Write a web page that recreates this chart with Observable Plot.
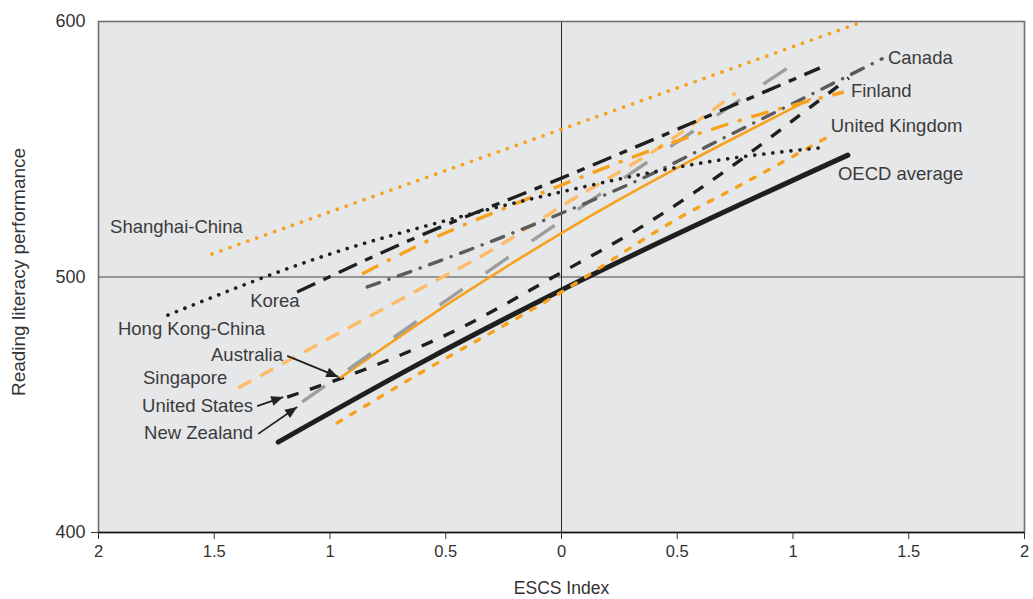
<!DOCTYPE html>
<html>
<head>
<meta charset="utf-8">
<script src="https://cdn.jsdelivr.net/npm/d3@7"></script>
<script src="https://cdn.jsdelivr.net/npm/@observablehq/plot@0.6"></script>
<style>
  html, body { margin: 0; padding: 0; background: #ffffff; }
  #chart { width: 1033px; height: 599px; }
</style>
</head>
<body>
<div id="chart"></div>
<script>
// ---------- Data (ESCS index, reading score) ----------
const shanghai  = [[-1.51, 509.0], [1.28, 599.2]];
const hongKong  = [[-1.70, 485.1], [-0.986, 509.4], [-0.523, 521.5], [0.0, 533.3], [0.744, 546.6], [1.11, 550.5]];
const korea     = [[-1.142, 494.1], [-0.653, 514.5], [0.0, 538.7], [1.116, 581.8]];
const canada    = [[-0.839, 496.1], [-0.61, 503.5], [-0.104, 521.1], [0.398, 540.7], [0.744, 556.4], [1.09, 572.0], [1.385, 585.4]];
const finland   = [[-0.861, 501.2], [-0.597, 513.3], [-0.19, 529.0], [0.0, 536.0], [0.428, 550.9], [0.774, 561.4], [1.22, 572.4]];
const unitedKingdom = [[-0.969, 442.9], [-0.61, 462.4], [0.0, 494.1], [0.515, 523.5], [0.774, 536.0], [1.15, 554.8]];
const oecdAverage   = [[-1.224, 435.4], [-0.61, 466.3], [0.0, 494.9], [1.237, 547.7]];
const australia = [[-0.956, 460.5], [-0.45, 491.8], [0.0, 517.2], [1.077, 569.7]];
const singapore = [[-1.397, 456.6], [-0.683, 491.8], [-0.264, 512.5], [0.009, 528.2], [0.458, 552.8], [0.752, 572.0]];
const unitedStates = [[-1.185, 453.0], [-0.856, 463.6], [-0.437, 480.0], [-0.035, 500.0], [0.372, 521.1], [0.761, 545.0], [1.047, 564.6], [1.241, 577.9]];
const newZealand = [[-1.12, 451.1], [-0.017, 521.0], [1.021, 584.5]];

const countryNames = ["Shanghai-China", "Korea", "Hong Kong-China", "Australia", "Singapore", "United States", "New Zealand", "Canada", "Finland", "United Kingdom", "OECD average"];
const labelX = [-1.95, -1.345, -1.916, -1.514, -1.808, -1.812, -1.803, 1.41, 1.25, 1.163, 1.194];
const labelY = [519.6, 490.6, 479.6, 469.5, 460.5, 449.5, 438.9, 585.7, 572.8, 559.1, 540.3];

// annotation arrows: [x1, y1, x2, y2] (from label to line start)
const arrowAustralia = [-1.185, 469.1, -0.964, 460.9];
const arrowUS        = [-1.315, 449.5, -1.202, 453.0];
const arrowNZ        = [-1.310, 438.6, -1.142, 449.1];

const xTicks = [-2, -1.5, -1, -0.5, 0, 0.5, 1, 1.5, 2];
const yTicks = [400, 500, 600];
const xTitle = "ESCS Index";
const yTitle = "Reading literacy performance";

// ---------- Layout / styles ----------
const W = 1033, H = 599;
const mL = 98, mR = 9, mT = 21, mB = 67;
const xDomain = [-2, 2], yDomain = [400, 600];
const kx = (W - mL - mR) / (xDomain[1] - xDomain[0]);
const ky = (H - mT - mB) / (yDomain[1] - yDomain[0]);

const ORANGE = "#f7a11c", LIGHT_ORANGE = "#fdbb66", BLACK = "#1f1f1f", DARK_GRAY = "#5b5b5b", LIGHT_GRAY = "#9d9d9d";

const series = [
  {data: oecdAverage,   stroke: BLACK,        width: 5,   dash: null,           cap: "round", curve: "monotone-x"},
  {data: unitedKingdom, stroke: ORANGE,       width: 3.4, dash: "5,11",         cap: "round", curve: "monotone-x"},
  {data: unitedStates,  stroke: BLACK,        width: 3.4, dash: "12,12",        cap: "butt",  curve: "monotone-x"},
  {data: australia,     stroke: ORANGE,       width: 2.6, dash: null,           cap: "butt",  curve: "monotone-x"},
  {data: newZealand,    stroke: LIGHT_GRAY,   width: 3.4, dash: "28,28",        cap: "butt",  curve: "monotone-x"},
  {data: singapore,     stroke: LIGHT_ORANGE, width: 3.4, dash: "15,10",        cap: "butt",  curve: "monotone-x"},
  {data: canada,        stroke: DARK_GRAY,    width: 3.4, dash: "13,10,0.1,10", cap: "round", curve: "monotone-x"},
  {data: finland,       stroke: ORANGE,       width: 3.4, dash: "18,10,4,10",   cap: "butt",  curve: "monotone-x"},
  {data: korea,         stroke: BLACK,        width: 3.4, dash: "20,9,8,9",     cap: "butt",  curve: "monotone-x"},
  {data: hongKong,      stroke: BLACK,        width: 3.6, dash: "0.1,9",        cap: "round", curve: "monotone-x"},
  {data: shanghai,      stroke: ORANGE,       width: 3.6, dash: "0.1,9.4",      cap: "round", curve: "linear"}
];

const labels = countryNames.map((name, i) => ({name, x: labelX[i], y: labelY[i]}));
const arrows = [arrowAustralia, arrowUS, arrowNZ].map(a => ({x1: a[0], y1: a[1], x2: a[2], y2: a[3]}));

function headSymbol(a) {
  const dx = (a.x2 - a.x1) * kx, dy = -(a.y2 - a.y1) * ky;
  const len = Math.hypot(dx, dy), ux = dx / len, uy = dy / len;
  const L = 12, Wd = 5;
  return {
    draw(ctx) {
      ctx.moveTo(0, 0);
      ctx.lineTo(-L * ux - Wd * uy, -L * uy + Wd * ux);
      ctx.lineTo(-L * ux + Wd * uy, -L * uy - Wd * ux);
      ctx.closePath();
    }
  };
}

const marks = [
  Plot.frame({fill: "#e6e7e9", stroke: null}),
  Plot.ruleY([500], {stroke: "#7a7a7a", strokeWidth: 1.6}),
  Plot.ruleX([0], {stroke: "#2a2a2a", strokeWidth: 1}),
  ...series.map(s => Plot.line(s.data, {
    x: d => d[0], y: d => d[1],
    stroke: s.stroke, strokeWidth: s.width,
    strokeDasharray: s.dash || undefined,
    strokeLinecap: s.cap, strokeLinejoin: "round",
    curve: s.curve
  })),
  ...arrows.map(a => Plot.link([a], {x1: "x1", y1: "y1", x2: "x2", y2: "y2", stroke: "#222", strokeWidth: 1.8})),
  ...arrows.map(a => Plot.dot([a], {x: "x2", y: "y2", symbol: headSymbol(a), r: 6, fill: "#222", stroke: "none"})),
  Plot.text(labels, {x: "x", y: "y", text: "name", textAnchor: "start", fontSize: 18.5, fill: "#3b3b3b"}),
  Plot.frame({stroke: "#6f6f6f", strokeWidth: 1.6}),
  Plot.ruleY([400], {stroke: "#111", strokeWidth: 1.6}),
  Plot.axisX({ticks: xTicks, tickFormat: d => String(Math.abs(d)), tickSize: 7, tickPadding: 6, fontSize: 16.5, label: null, stroke: "#333", fill: "#333"}),
  Plot.axisY({ticks: [400], tickSize: 7, tickFormat: () => "", label: null, stroke: "#333"}),
  Plot.text(yTicks, {y: d => d, frameAnchor: "left", dx: -13, textAnchor: "end", text: d => String(d), fontSize: 18, fill: "#333"}),
  Plot.text([xTitle], {frameAnchor: "bottom", dy: 61, fontSize: 17.5, fill: "#333"}),
  Plot.text([yTitle], {frameAnchor: "left", dx: -80, dy: -5, rotate: -90, textAnchor: "middle", fontSize: 19, fill: "#333"})
];

const chart = Plot.plot({
  width: W, height: H,
  marginLeft: mL, marginRight: mR, marginTop: mT, marginBottom: mB,
  x: {domain: xDomain, axis: null},
  y: {domain: yDomain, axis: null},
  style: {fontFamily: "'Liberation Sans', Arial, Helvetica, sans-serif", fontSize: "16px", background: "#ffffff", overflow: "visible"},
  marks
});
document.getElementById("chart").appendChild(chart);
</script>
</body>
</html>
